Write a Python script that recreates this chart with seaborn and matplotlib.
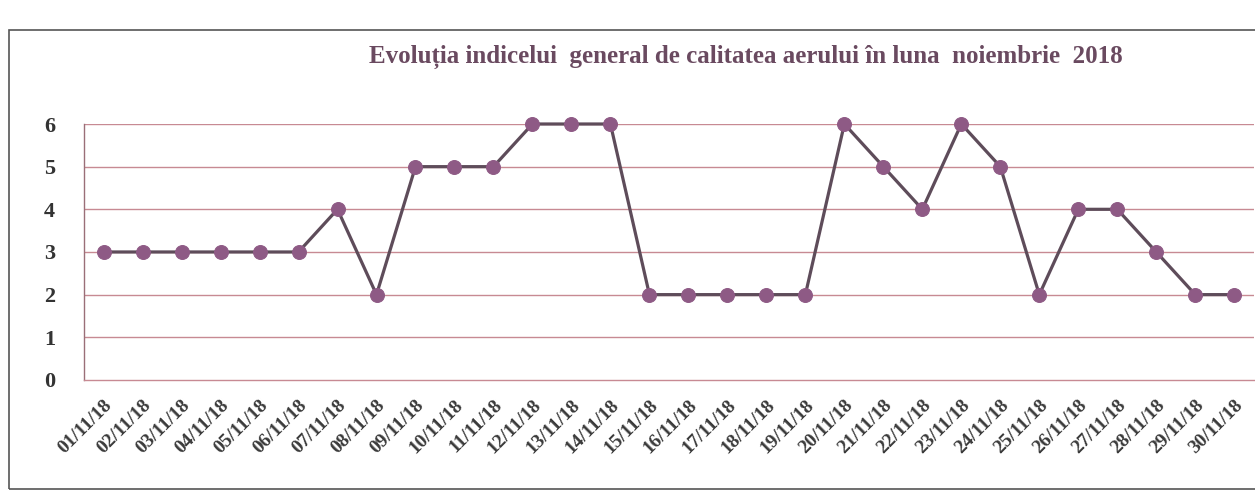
import matplotlib
matplotlib.use("Agg")
import matplotlib.pyplot as plt
import seaborn as sns
import pandas as pd
from matplotlib.patches import Rectangle

dates = ["01/11/18", "02/11/18", "03/11/18", "04/11/18", "05/11/18", "06/11/18",
         "07/11/18", "08/11/18", "09/11/18", "10/11/18", "11/11/18", "12/11/18",
         "13/11/18", "14/11/18", "15/11/18", "16/11/18", "17/11/18", "18/11/18",
         "19/11/18", "20/11/18", "21/11/18", "22/11/18", "23/11/18", "24/11/18",
         "25/11/18", "26/11/18", "27/11/18", "28/11/18", "29/11/18", "30/11/18"]
index_values = [3, 3, 3, 3, 3, 3, 4, 2, 5, 5, 5, 6, 6, 6, 2, 2, 2, 2, 2,
                6, 5, 4, 6, 5, 2, 4, 4, 3, 2, 2]
y_ticks = [0, 1, 2, 3, 4, 5, 6]
title = "Evoluția indicelui  general de calitatea aerului în luna  noiembrie  2018"

sns.set_theme(style="white")
plt.rcParams["font.family"] = ["Liberation Serif", "DejaVu Serif"]

df = pd.DataFrame({"data": dates, "indice": index_values})

fig = plt.figure(figsize=(12.55, 4.96), dpi=100)
ax = fig.add_axes([0.067, 0.234, 0.932, 0.516])

grid_color = "#c78a93"
for yv in y_ticks[1:]:
    ax.axhline(yv, color=grid_color, lw=1.0, zorder=0)

sns.lineplot(data=df, x="data", y="indice", ax=ax, color="#5e4c5a", lw=2.3,
             marker="o", markersize=10, markerfacecolor="#8e5a85",
             markeredgecolor="#8e5a85", clip_on=False, zorder=3, sort=False)

ax.set_xlim(-0.5, len(dates) - 0.5)
ax.set_ylim(0, 6)
ax.set_yticks(y_ticks)
ax.set_yticklabels([str(v) for v in y_ticks], fontsize=16, fontweight="bold",
                   color="#333333")
ax.set_xticks(range(len(dates)))
ax.set_xticklabels(dates, rotation=45, ha="right", rotation_mode="anchor",
                   fontsize=14, fontweight="bold", color="#3a3a3a")
ax.set_xticks([i - 0.5 for i in range(len(dates) + 1)], minor=True)
ax.tick_params(axis="x", which="major", length=0, pad=12)
ax.tick_params(axis="x", which="minor", length=5, color=grid_color, width=1,
               direction="out")
ax.tick_params(axis="y", which="major", length=5, color=grid_color, width=1,
               direction="out", pad=16)
ax.set_xlabel("")
ax.set_ylabel("")

for side in ["top", "right"]:
    ax.spines[side].set_visible(False)
ax.spines["left"].set_color("#9a6f78")
ax.spines["bottom"].set_color(grid_color)
ax.spines["left"].set_linewidth(1.0)
ax.spines["bottom"].set_linewidth(1.0)

fig.text(0.594, 0.885, title, ha="center", va="center", fontsize=18,
         fontweight="bold", color="#6a4a60")

frame = Rectangle((0.007, 0.015), 1.2, 0.925, transform=fig.transFigure,
                  fill=False, edgecolor="#555555", lw=1.2)
fig.patches.append(frame)

fig.savefig("out.png", dpi=100)
